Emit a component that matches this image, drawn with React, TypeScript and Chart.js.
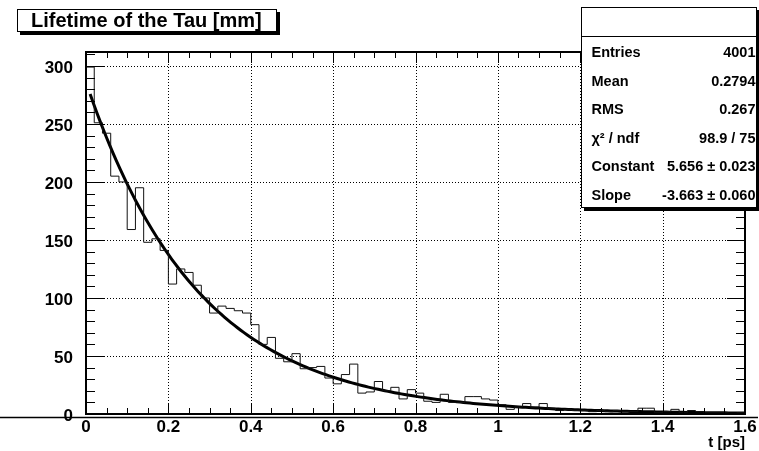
import { useEffect, useRef } from "react";
import { Chart, registerables } from "chart.js";
Chart.register(...registerables);

// ---- data ----
const BIN_WIDTH = 0.02;
const X_MIN = 0;
const X_MAX = 1.6;
const Y_MIN = 0;
const Y_MAX = 312;

const binCounts = [
  299, 251, 242, 205, 200, 159, 195, 148, 151, 141,
  112, 125, 122, 111, 100, 87, 93, 91, 89, 87,
  77, 60, 66, 48, 45, 52, 39, 40, 41, 31,
  26, 34, 43, 18, 19, 28, 20, 23, 13, 21,
  18, 11, 10, 17, 10, 10, 15, 15, 13, 12,
  8, 4, 6, 9, 6, 9, 5, 3, 4, 3,
  3, 2, 3, 2, 3, 2, 2, 5, 5, 1,
  2, 4, 1, 3, 2, 1, 1, 1, 0, 1,
];

const FIT_CONSTANT = 5.656;
const FIT_SLOPE = -3.663;
const FIT_FROM = 0.01;
const FIT_TO = 1.6;
const FIT_SAMPLES = 200;

const xTickStep = 0.2;
const yTickStep = 50;
const xMinorStep = 0.05;
const yMinorStep = 10;

const TITLE = "Lifetime of the Tau [mm]";
const X_TITLE = "t [ps]";
const statLabels = ["Entries", "Mean", "RMS", "\u03C7\u00B2 / ndf", "Constant", "Slope"];
const statValues = ["4001", "0.2794", "0.267", "98.9 / 75", "5.656 \u00B1 0.023", "-3.663 \u00B1 0.060"];

const FONT = '"Liberation Sans", Arial, Helvetica, sans-serif';

export default function App() {
  const ref = useRef<HTMLCanvasElement | null>(null);

  useEffect(() => {
    document.body.style.margin = "0";
    const canvas = ref.current;
    if (!canvas) return;

    const histPoints: { x: number; y: number }[] = [{ x: X_MIN, y: 0 }];
    binCounts.forEach((c, i) => histPoints.push({ x: X_MIN + i * BIN_WIDTH, y: c }));
    histPoints.push({ x: X_MAX, y: binCounts[binCounts.length - 1] });
    histPoints.push({ x: X_MAX, y: 0 });

    const fitPoints: { x: number; y: number }[] = [];
    for (let i = 0; i <= FIT_SAMPLES; i++) {
      const t = FIT_FROM + ((FIT_TO - FIT_FROM) * i) / FIT_SAMPLES;
      fitPoints.push({ x: t, y: Math.exp(FIT_CONSTANT + FIT_SLOPE * t) });
    }

    const rootStyle = {
      id: "rootStyle",
      beforeDatasetsDraw(chart: any) {
        const { ctx, chartArea: a, scales } = chart;
        const xs = scales.x, ys = scales.y;
        ctx.save();
        ctx.strokeStyle = "#000";
        ctx.lineWidth = 1;
        ctx.setLineDash([1, 2]);
        for (let v = X_MIN + xTickStep; v < X_MAX - 1e-6; v += xTickStep) {
          const px = Math.round(xs.getPixelForValue(v)) + 0.5;
          ctx.beginPath(); ctx.moveTo(px, a.top); ctx.lineTo(px, a.bottom); ctx.stroke();
        }
        for (let v = Y_MIN + yTickStep; v < Y_MAX; v += yTickStep) {
          const py = Math.round(ys.getPixelForValue(v)) + 0.5;
          ctx.beginPath(); ctx.moveTo(a.left, py); ctx.lineTo(a.right, py); ctx.stroke();
        }
        ctx.restore();
      },
      afterDatasetsDraw(chart: any) {
        const { ctx, chartArea: a, scales } = chart;
        const xs = scales.x, ys = scales.y;
        ctx.save();
        ctx.strokeStyle = "#000";
        ctx.setLineDash([]);
        ctx.lineWidth = 1;
        // x ticks (bottom & top, inside)
        const nx = Math.round((X_MAX - X_MIN) / xMinorStep);
        for (let k = 0; k <= nx; k++) {
          const v = X_MIN + k * xMinorStep;
          const major = Math.abs(v / xTickStep - Math.round(v / xTickStep)) < 1e-6;
          const len = major ? 11 : 6;
          const px = Math.round(xs.getPixelForValue(v)) + 0.5;
          ctx.beginPath(); ctx.moveTo(px, a.bottom); ctx.lineTo(px, a.bottom - len); ctx.stroke();
          ctx.beginPath(); ctx.moveTo(px, a.top); ctx.lineTo(px, a.top + len); ctx.stroke();
        }
        // y ticks (left & right, inside)
        for (let v = Y_MIN; v <= Y_MAX; v += yMinorStep) {
          const major = v % yTickStep === 0;
          const len = major ? 18 : 9;
          const py = Math.round(ys.getPixelForValue(v)) + 0.5;
          ctx.beginPath(); ctx.moveTo(a.left, py); ctx.lineTo(a.left + len, py); ctx.stroke();
          ctx.beginPath(); ctx.moveTo(a.right, py); ctx.lineTo(a.right - len, py); ctx.stroke();
        }
        // frame
        ctx.lineWidth = 2;
        ctx.strokeRect(a.left, a.top, a.right - a.left, a.bottom - a.top);
        // pad line under the axis
        ctx.lineWidth = 1.5;
        ctx.beginPath(); ctx.moveTo(0, a.bottom + 3.5); ctx.lineTo(758, a.bottom + 3.5); ctx.stroke();
        ctx.restore();
      },
      afterDraw(chart: any) {
        const { ctx, chartArea: a } = chart;
        ctx.save();
        ctx.fillStyle = "#000";
        ctx.strokeStyle = "#000";
        // x axis title
        ctx.font = `bold 15px ${FONT}`;
        ctx.textAlign = "right";
        ctx.textBaseline = "alphabetic";
        ctx.fillText(X_TITLE, a.right, 447);

        // title box
        ctx.fillStyle = "#000";
        ctx.fillRect(20, 12, 260, 23);
        ctx.fillStyle = "#fff";
        ctx.fillRect(17, 9, 260, 23);
        ctx.lineWidth = 1;
        ctx.strokeRect(17.5, 9.5, 259, 22);
        ctx.fillStyle = "#000";
        ctx.font = `bold 20px ${FONT}`;
        ctx.textAlign = "left";
        ctx.fillText(TITLE, 31, 27);

        // stats box
        const bx = 581, by = 7, bw = 176, bh = 201;
        ctx.fillStyle = "#000";
        ctx.fillRect(bx + 3, by + 3, bw, bh);
        ctx.fillStyle = "#fff";
        ctx.fillRect(bx, by, bw, bh);
        ctx.strokeRect(bx + 0.5, by + 0.5, bw - 1, bh - 1);
        ctx.beginPath(); ctx.moveTo(bx, 36.5); ctx.lineTo(bx + bw, 36.5); ctx.stroke();
        ctx.fillStyle = "#000";
        ctx.font = `bold 14.5px ${FONT}`;
        statLabels.forEach((lab, i) => {
          const yb = 57 + i * 28.5;
          ctx.textAlign = "left";
          ctx.fillText(lab, 591.5, yb);
          ctx.textAlign = "right";
          ctx.fillText(statValues[i], 755.5, yb);
        });
        ctx.restore();
      },
    };

    const chart = new Chart(canvas, {
      type: "line",
      data: {
        datasets: [
          {
            label: "hist",
            data: histPoints,
            stepped: "before",
            borderColor: "#111",
            borderWidth: 1,
            pointRadius: 0,
            fill: false,
          },
          {
            label: "fit",
            data: fitPoints,
            borderColor: "#000",
            borderWidth: 3,
            pointRadius: 0,
            tension: 0,
            fill: false,
          },
        ],
      },
      options: {
        animation: false,
        responsive: false,
        devicePixelRatio: 1,
        layout: { padding: { left: 0, top: 52, right: 14, bottom: 0 } },
        plugins: { legend: { display: false }, tooltip: { enabled: false }, title: { display: false } },
        events: [],
        scales: {
          x: {
            type: "linear",
            min: X_MIN,
            max: X_MAX,
            grid: { display: false },
            border: { display: false },
            afterFit: (s: any) => { s.height = 37; },
            ticks: {
              stepSize: xTickStep,
              includeBounds: false,
              autoSkip: false,
              maxRotation: 0,
              padding: -5,
              color: "#000",
              font: { family: FONT, size: 17, weight: "bold" },
              callback: (v: any) => String(Math.round(Number(v) * 10) / 10),
            },
          },
          y: {
            type: "linear",
            min: Y_MIN,
            max: Y_MAX,
            grid: { display: false },
            border: { display: false },
            afterFit: (s: any) => { s.width = 86; },
            ticks: {
              stepSize: yTickStep,
              includeBounds: false,
              autoSkip: false,
              padding: 5,
              labelOffset: 2,
              color: "#000",
              font: { family: FONT, size: 17, weight: "bold" },
            },
          },
        },
      },
      plugins: [rootStyle],
    } as any);

    return () => chart.destroy();
  }, []);

  return <canvas ref={ref} width={759} height={451} style={{ display: "block", width: 759, height: 451 }} />;
}
